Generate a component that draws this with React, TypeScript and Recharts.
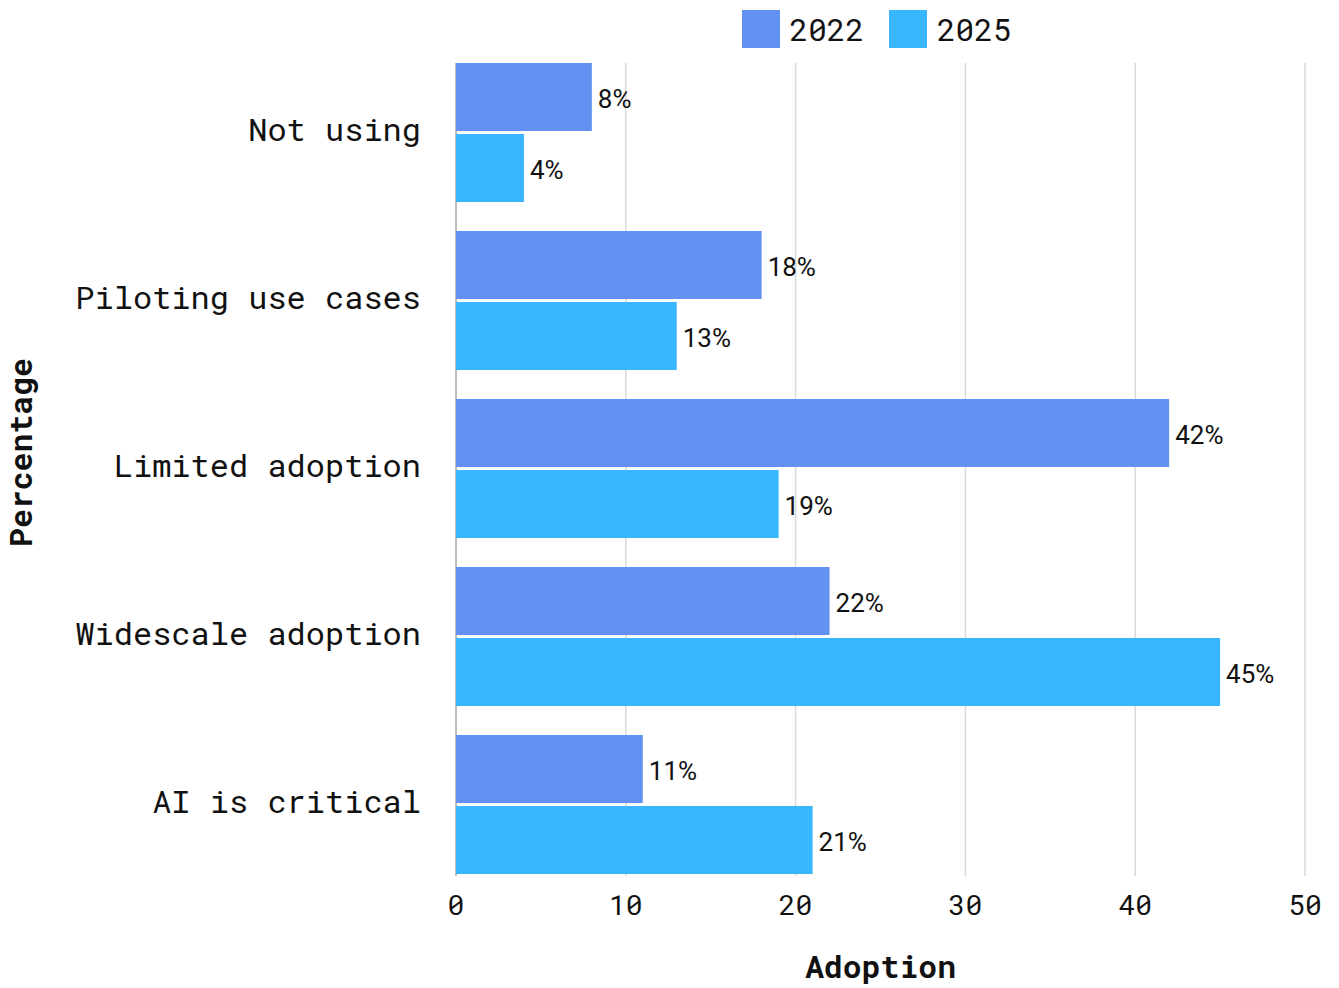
import { BarChart, Bar, XAxis, YAxis, CartesianGrid, Legend, LabelList } from 'recharts';

const categories = ['Not using', 'Piloting use cases', 'Limited adoption', 'Widescale adoption', 'AI is critical'];
const values2022 = [8, 18, 42, 22, 11];
const values2025 = [4, 13, 19, 45, 21];
const seriesNames = ['2022', '2025'];
const seriesColors = ['#6391F2', '#38B6FF'];
const xTicks = [0, 10, 20, 30, 40, 50];

const data = categories.map((c, i) => ({ stage: c, y2022: values2022[i], y2025: values2025[i] }));

const MONO = '"Roboto Mono", "DejaVu Sans Mono", monospace';

const LegendBox = () => (
    <div style={{ display: 'flex', justifyContent: 'center', alignItems: 'center', height: 40, gap: 25 }}>
        {seriesNames.map((name, i) => (
            <div key={name} style={{ display: 'flex', alignItems: 'center', gap: 10 }}>
                <div style={{ width: 38, height: 38, background: seriesColors[i] }} />
                <span style={{ fontFamily: MONO, fontSize: 31, color: '#111' }}>{name}</span>
            </div>
        ))}
    </div>
);

// grid lines only span the bars, first one doubles as the axis line
const GridLine = (p: any) => (
    <line
        key={p.key}
        x1={p.x1}
        x2={p.x2}
        y1={p.y1 + 14.5}
        y2={p.y2 - 12.5}
        stroke={p.index === 0 ? '#a8a8a8' : '#dadada'}
        strokeWidth={1.5}
    />
);

export default function App() {
    return (
        <div style={{ position: 'absolute', top: 0, left: 0, background: '#fff' }}>
            <BarChart
                layout="vertical"
                width={1339}
                height={988}
                data={data}
                margin={{ top: 8.5, right: 34, bottom: 0, left: 0 }}
                barCategoryGap={14.5}
                barGap={3}
            >
                <CartesianGrid horizontal={false} vertical={GridLine} />
                <XAxis
                    type="number"
                    domain={[0, 50]}
                    ticks={xTicks}
                    height={99.5}
                    axisLine={false}
                    tickLine={false}
                    tickMargin={1}
                    tick={{ fill: '#111', fontSize: 28, fontFamily: MONO }}
                    label={{ value: 'Adoption', position: 'insideBottom', offset: 10, fill: '#111', fontSize: 31.5, fontWeight: 'bold', fontFamily: MONO }}
                />
                <YAxis
                    type="category"
                    dataKey="stage"
                    width={456}
                    axisLine={false}
                    tickLine={false}
                    tickMargin={29}
                    tick={{ fill: '#111', fontSize: 32, fontFamily: MONO, dy: -3 }}
                    label={{
                        content: ({ viewBox }: any) => (
                            <text
                                x={20}
                                y={viewBox.y + viewBox.height / 2 - 16}
                                transform={`rotate(-90 20 ${viewBox.y + viewBox.height / 2 - 16})`}
                                textAnchor="middle"
                                dominantBaseline="central"
                                fill="#111"
                                fontSize={31.5}
                                fontWeight="bold"
                                fontFamily={MONO}
                            >
                                Percentage
                            </text>
                        ),
                    }}
                />
                <Legend verticalAlign="top" content={LegendBox} wrapperStyle={{ top: 8.5, left: 452, width: 849, height: 40 }} />
                <Bar dataKey="y2022" name={seriesNames[0]} fill={seriesColors[0]} isAnimationActive={false}>
                    <LabelList dataKey="y2022" position="right" offset={6} dy={2} formatter={(v: any) => `${v}%`} fill="#111" fontSize={26} fontFamily="Roboto" />
                </Bar>
                <Bar dataKey="y2025" name={seriesNames[1]} fill={seriesColors[1]} isAnimationActive={false}>
                    <LabelList dataKey="y2025" position="right" offset={6} dy={2} formatter={(v: any) => `${v}%`} fill="#111" fontSize={26} fontFamily="Roboto" />
                </Bar>
            </BarChart>
        </div>
    );
}
